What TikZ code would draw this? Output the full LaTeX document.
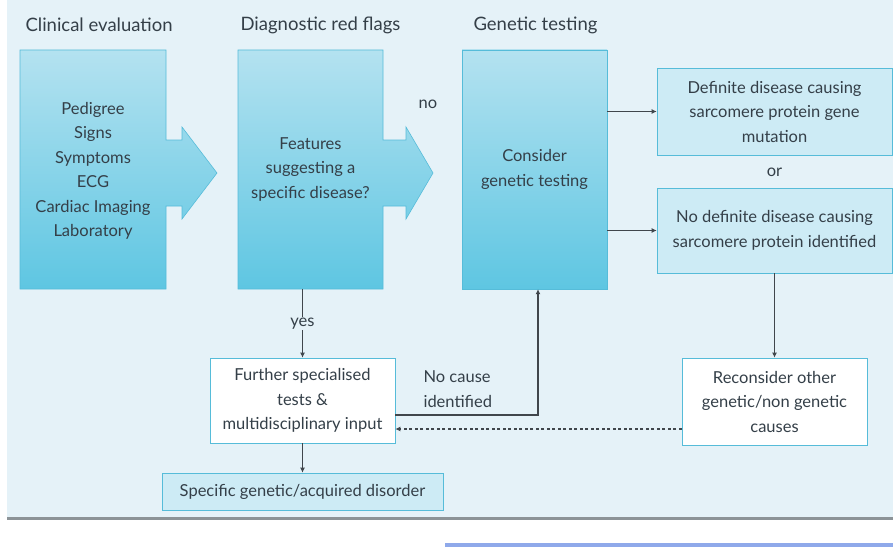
\documentclass[tikz,border=0pt]{standalone}
\usepackage{fontspec}
\setmainfont{Lato}
\usetikzlibrary{arrows.meta,positioning,calc}
\usepackage{xcolor}

\definecolor{panelbg}{HTML}{E5F2F8}
\definecolor{boxtop}{HTML}{B4E2F0}
\definecolor{boxbot}{HTML}{5EC6E2}
\definecolor{boxedge}{HTML}{56BCD9}
\definecolor{lightbox}{HTML}{CDEBF5}
\definecolor{txtcol}{HTML}{343F48}
\definecolor{linecol}{HTML}{40464C}
\definecolor{rulecol}{HTML}{8C9397}
\definecolor{bluerule}{HTML}{8FA9EA}

\begin{document}
\begin{tikzpicture}[x=1pt,y=-1pt,
  txt/.style={font=\fontsize{16.5}{24.5}\selectfont,text=txtcol,align=center},
  hdr/.style={font=\fontsize{18.5}{20}\selectfont,text=txtcol,anchor=west},
  bigbox/.style={txt,minimum width=145pt,minimum height=239pt,inner sep=0pt},
  outbox/.style={txt,draw=boxedge,fill=lightbox,line width=0.7pt,inner sep=0pt},
  whitebox/.style={outbox,fill=white},
  conn/.style={draw=linecol,line width=1.2pt,-{Latex[length=5pt,width=5pt]}},
  lbl/.style={txt,fill=panelbg,inner sep=1pt}]

\useasboundingbox (0,0) rectangle (893,559);

% ---- background panel and rules ----
\fill[panelbg] (7,0) rectangle (893,518);
\draw[rulecol,line width=3pt] (7,518) -- (893,518);
\draw[bluerule,line width=4.5pt] (445,545) -- (893,545);

% ---- headings ----
\node[hdr] (h1) at (22,25) {Clinical evaluation};
\node[hdr] (h2) at (237,25) {Diagnostic red flags};
\node[hdr] (h3) at (470,25) {Genetic testing};

% ---- big boxes with arrow: \boxarrow{left}{right}{head base}{tip}
\newcommand{\boxarrow}[4]{
  \shadedraw[top color=boxtop,bottom color=boxbot,draw=boxedge,line width=0.6pt]
    (#1,50) -- (#2,50) -- (#2,140) -- (#3,140) -- (#3,127) -- (#4,173)
    -- (#3,219) -- (#3,206) -- (#2,206) -- (#2,289) -- (#1,289) -- cycle;
}
\boxarrow{20}{166}{182}{217}
\boxarrow{238}{383}{406}{433}
\shadedraw[top color=boxtop,bottom color=boxbot,draw=boxedge,line width=0.6pt]
  (462,50) rectangle (607,289);

\node[bigbox] (clin) at (93,171)
  {Pedigree\\Signs\\Symptoms\\ECG\\Cardiac Imaging\\Laboratory};
\node[bigbox] (flag) at (310.5,169.5) {Features\\suggesting a\\specific disease?};
\node[bigbox] (gen) at (534.5,169.5) {Consider\\genetic testing};
\node[txt] (nolbl) at (428,104) {no};

% ---- genetic test outcomes ----
\node[outbox,minimum width=235pt,minimum height=87pt] (def) at (774.5,111.5)
  {Definite disease causing\\sarcomere protein gene\\mutation};
\node[txt] (orlbl) at (774.5,172) {or};
\node[outbox,minimum width=235pt,minimum height=85pt] (nodef) at (774.5,230.5)
  {No definite disease causing\\sarcomere protein identified};
\node[whitebox,minimum width=185pt,minimum height=87pt] (recon) at (774.5,401.5)
  {Reconsider other\\genetic/non genetic\\causes};

% ---- yes branch ----
\node[whitebox,minimum width=185pt,minimum height=85pt] (further) at (302.5,400.5)
  {Further specialised\\tests \&\\multidisciplinary input};
\node[outbox,minimum width=281pt,minimum height=37pt] (spec) at (302.5,491.5)
  {Specific genetic/acquired disorder};
\node[txt,align=left,anchor=west] (nocause) at (420,389) {No cause\\identified};

% ---- connectors ----
\draw[conn] (gen.east |- def.west) -- (def.west);
\draw[conn] (gen.east |- nodef.west) -- (nodef.west);
\draw[conn] (nodef.south) -- (recon.north);
\draw[conn] (further.north |- flag.south) -- node[lbl] (yes) {yes} (further.north);
\draw[conn] (further.south) -- (spec.north);
\draw[conn] ([yshift=-14.5pt]further.east) -| ([xshift=3.5pt]gen.south);
\draw[conn,dash pattern=on 3pt off 2.5pt] ([yshift=-27.5pt]recon.west)
  -- ([yshift=-28.5pt]further.east);

\end{tikzpicture}
\end{document}
